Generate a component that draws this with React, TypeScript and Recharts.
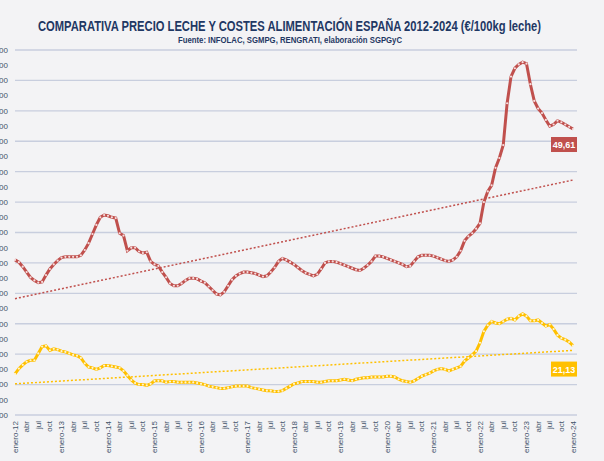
import { LineChart, Line, XAxis, YAxis, CartesianGrid } from "recharts";

// months from enero-12 to enero-24
const monthNames = ["enero", "feb", "mar", "abr", "may", "jun", "jul", "ago", "sep", "oct", "nov", "dic"];
const years = [12, 13, 14, 15, 16, 17, 18, 19, 20, 21, 22, 23, 24];

const meses: string[] = [];
years.forEach((y) =>
  monthNames.forEach((m, i) => {
    if (y < 24 || i === 0) meses.push(`${m}-${y}`);
  })
);

// precio leche €/100kg
const leche = [
  32.4, 32.1, 31.5, 30.8, 30.1, 29.7, 29.4, 29.5, 30.4, 31.2, 31.8, 32.3,
  32.7, 32.8, 32.8, 32.8, 32.8, 33.0, 33.7, 34.6, 35.8, 37.0, 38.0, 38.3,
  38.2, 38.0, 37.9, 35.9, 35.6, 33.6, 34.0, 34.0, 33.5, 33.3, 33.4, 32.2,
  31.8, 31.6, 30.8, 30.1, 29.3, 29.0, 29.0, 29.3, 29.7, 30.0, 30.0, 29.9,
  29.6, 29.4, 28.9, 28.4, 27.9, 27.8, 28.2, 29.0, 29.8, 30.3, 30.6, 30.8,
  30.8, 30.7, 30.6, 30.4, 30.2, 30.3, 30.8, 31.4, 32.2, 32.6, 32.4, 32.1,
  31.8, 31.4, 31.0, 30.7, 30.5, 30.3, 30.5, 31.2, 32.0, 32.2, 32.2, 32.1,
  31.9, 31.7, 31.5, 31.3, 31.1, 31.0, 31.3, 31.7, 32.2, 32.9, 32.9, 32.8,
  32.6, 32.4, 32.2, 32.0, 31.8, 31.5, 31.6, 32.2, 32.8, 33.0, 33.0, 33.0,
  32.9, 32.7, 32.5, 32.3, 32.2, 32.4, 32.8, 33.6, 34.9, 35.5, 35.9, 36.5,
  37.2, 40.0, 41.4, 42.2, 44.5, 45.8, 47.5, 53.0, 56.5, 57.6, 58.1, 58.4,
  58.2, 55.5, 53.3, 52.3, 51.7, 50.8, 50.0, 50.2, 50.7, 50.5, 50.2, 49.9,
  49.61,
];

// costes alimentación €/100kg leche
const costes = [
  17.4, 18.1, 18.6, 19.0, 19.2, 19.2, 20.1, 21.0, 21.1, 20.5, 20.7, 20.6,
  20.4, 20.3, 20.1, 19.9, 19.8, 19.5, 18.8, 18.3, 18.2, 18.0, 18.2, 18.5,
  18.5, 18.4, 18.3, 18.2, 17.8, 17.2, 16.6, 16.2, 16.0, 16.0, 15.9, 16.1,
  16.5, 16.5, 16.5, 16.3, 16.4, 16.4, 16.3, 16.3, 16.3, 16.3, 16.3, 16.2,
  16.1, 16.0, 15.8, 15.7, 15.6, 15.5, 15.5, 15.6, 15.7, 15.8, 15.8, 15.8,
  15.8, 15.6, 15.5, 15.4, 15.3, 15.2, 15.2, 15.1, 15.1, 15.2, 15.5, 15.8,
  16.1, 16.2, 16.4, 16.4, 16.4, 16.4, 16.3, 16.3, 16.4, 16.5, 16.5, 16.5,
  16.6, 16.7, 16.6, 16.5, 16.7, 16.8, 16.9, 16.9, 17.0, 17.0, 17.0, 17.0,
  17.1, 17.1, 17.0, 16.7, 16.5, 16.4, 16.3, 16.5, 16.8, 17.1, 17.3, 17.5,
  17.8, 18.0, 18.1, 18.0, 17.8, 18.0, 18.2, 18.4, 19.1, 19.5, 19.9, 20.4,
  21.5, 23.0, 23.8, 24.3, 24.1, 24.0, 24.3, 24.6, 24.7, 24.5, 25.0, 25.3,
  25.0, 24.4, 24.4, 24.5, 24.1, 23.7, 23.9, 23.3, 22.5, 22.1, 21.9, 21.6,
  21.13,
];

// lineas de tendencia (inicio, fin)
const tendLeche = [27.3, 42.9];
const tendCostes = [16.1, 20.5];

const yTicks = [12, 14, 16, 18, 20, 22, 24, 26, 28, 30, 32, 34, 36, 38, 40, 42, 44, 46, 48, 50, 52, 54, 56, 58, 60];

const last = meses.length - 1;
const data = meses.map((mes, i) => ({
  mes,
  leche: leche[i],
  costes: costes[i],
  tLeche: i === 0 ? tendLeche[0] : i === last ? tendLeche[1] : null,
  tCostes: i === 0 ? tendCostes[0] : i === last ? tendCostes[1] : null,
}));

const xTicks = meses.filter((_, i) => i % 3 === 0);
const fmtMes = (v: string) => (v.startsWith("enero") ? v : v.split("-")[0]);
const fmtNum = (v: number) => v.toFixed(2).replace(".", ",");

const AXIS = "#44546A";
const RED = "#C0504D";
const YEL = "#FFC000";

const XTick = ({ x, y, payload }: any) => (
  <text
    x={x}
    y={y}
    transform={`rotate(-90 ${x} ${y})`}
    textAnchor="end"
    dominantBaseline="central"
    fontSize={8}
    fill={AXIS}
  >
    {fmtMes(payload.value)}
  </text>
);

const endLabel = (color: string, dy: number) => (props: any) => {
  const { x, y, index, value } = props;
  if (index !== last) return null;
  const bx = x - 22;
  const by = y + dy;
  return (
    <g>
      <rect x={bx} y={by} width={26} height={15} fill={color} />
      <text x={bx + 13} y={by + 11} textAnchor="middle" fontSize={9} fontWeight="bold" fill="#fff">
        {fmtNum(value)}
      </text>
    </g>
  );
};

export default function App() {
  return (
    <div
      style={{
        position: "fixed",
        left: 0,
        top: 0,
        width: 604,
        height: 461,
        overflow: "hidden",
        background: "#f3f3f5",
        fontFamily: '"Liberation Sans", Arial, sans-serif',
      }}
    >
      <svg width={604} height={50} style={{ position: "absolute", left: 0, top: 0 }}>
        <text x={38} y={31} fontSize={14} fontWeight="bold" fill="#1F3864" textLength={503} lengthAdjust="spacingAndGlyphs">
          COMPARATIVA PRECIO LECHE Y COSTES ALIMENTACIÓN ESPAÑA 2012-2024 (€/100kg leche)
        </text>
        <text x={178} y={43} fontSize={9} fontWeight="bold" fill="#1F3864" textLength={224} lengthAdjust="spacingAndGlyphs">
          Fuente: INFOLAC, SGMPG, RENGRATI, elaboración SGPGyC
        </text>
      </svg>
      <div style={{ position: "absolute", left: -46, top: 0 }}>
        <LineChart width={650} height={461} data={data} margin={{ top: 50, right: 27, bottom: 0, left: 0 }}>
          <CartesianGrid vertical={false} stroke="#c8cede" strokeWidth={1.3} />
          <XAxis
            dataKey="mes"
            ticks={xTicks}
            interval={0}
            height={46}
            padding={{ left: 0, right: 4 }}
            axisLine={false}
            tickLine={false}
            tickSize={0}
            tickMargin={6}
            tick={<XTick />}
          />
          <YAxis
            domain={[12, 60]}
            ticks={yTicks}
            width={61}
            axisLine={false}
            tickLine={false}
            tickSize={0}
            tickMargin={7}
            tickFormatter={fmtNum}
            tick={{ fontSize: 8, fill: AXIS }}
          />
          <Line
            dataKey="tLeche"
            stroke={RED}
            strokeWidth={1.5}
            strokeDasharray="2 2"
            dot={false}
            connectNulls
            isAnimationActive={false}
          />
          <Line
            dataKey="tCostes"
            stroke={YEL}
            strokeWidth={1.5}
            strokeDasharray="2 2"
            dot={false}
            connectNulls
            isAnimationActive={false}
          />
          <Line
            dataKey="leche"
            stroke={RED}
            strokeWidth={3}
            dot={{ r: 1.1, fill: "#f6dede", stroke: "none" }}
            label={endLabel(RED, 8)}
            isAnimationActive={false}
          />
          <Line
            dataKey="costes"
            stroke={YEL}
            strokeWidth={3}
            dot={{ r: 1.1, fill: "#fff4d0", stroke: "none" }}
            label={endLabel(YEL, 16)}
            isAnimationActive={false}
          />
        </LineChart>
      </div>
    </div>
  );
}
